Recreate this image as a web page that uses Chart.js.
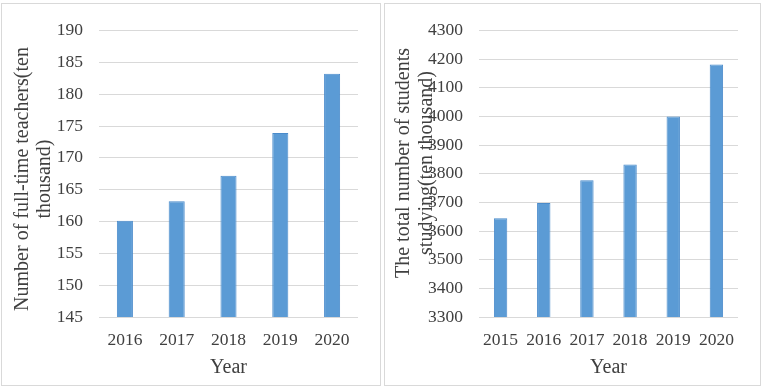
<!DOCTYPE html>
<html>
<head>
<meta charset="utf-8">
<script src="https://cdn.jsdelivr.net/npm/chart.js@4"></script>
<style>
  body { margin: 0; background: #fff; width: 765px; height: 391px; position: relative; overflow: hidden; }
  .panel { position: absolute; top: 3px; height: 383px; border: 1px solid #d9d9d9; box-sizing: border-box; }
  .panel canvas { display: block; }
</style>
</head>
<body>
<div class="panel" style="left:1px; width:380px;"><canvas id="teachers" width="378" height="381"></canvas></div>
<div class="panel" style="left:384px; width:377px;"><canvas id="students" width="375" height="381"></canvas></div>
<script>
// left chart: full-time teachers
const teacherYears = ['2016', '2017', '2018', '2019', '2020'];
const teacherValues = [160.1, 163.2, 167.2, 173.9, 183.2];
const teacherTitle = ['Number of full-time teachers(ten', 'thousand)'];

// right chart: students studying
const studentYears = ['2015', '2016', '2017', '2018', '2019', '2020'];
const studentValues = [3645, 3698, 3777, 3832, 4000, 4181];
const studentTitle = ['The total number of students', 'studying(ten thousand)'];

const textColor = '#404040';
const serif = 'Liberation Serif';

// draws the rotated y title where Excel put it (it overlaps the ticks on the right chart)
const yTitlePlugin = {
  id: 'yTitle',
  afterDraw(chart, args, opts) {
    const ctx = chart.ctx;
    ctx.save();
    ctx.fillStyle = textColor;
    ctx.font = opts.size + 'px "' + serif + '"';
    ctx.textAlign = 'center';
    ctx.textBaseline = 'middle';
    opts.lines.forEach((line, i) => {
      ctx.save();
      ctx.translate(opts.x[i], opts.y);
      ctx.rotate(-Math.PI / 2);
      ctx.fillText(line, 0, 0);
      ctx.restore();
    });
    ctx.restore();
  }
};

function makeChart(id, labels, values, yMin, yMax, step, yWidth, titleLines, titleX, titleY) {
  return new Chart(document.getElementById(id), {
    type: 'bar',
    data: {
      labels: labels,
      datasets: [{
        data: values,
        backgroundColor: '#5b9bd5',
        borderColor: '#4a8bcb',
        borderWidth: 1,
        categoryPercentage: 1,
        barPercentage: 0.31
      }]
    },
    options: {
      responsive: false,
      animation: false,
      layout: { padding: { top: 22, right: 22, left: 0, bottom: 0 } },
      plugins: {
        legend: { display: false },
        tooltip: { enabled: false },
        yTitle: { lines: titleLines, x: titleX, y: titleY, size: 20 }
      },
      scales: {
        x: {
          grid: { display: false },
          border: { display: false },
          ticks: { color: textColor, font: { family: serif, size: 17.5 }, padding: 5, maxRotation: 0 },
          title: { display: true, text: 'Year', color: textColor, font: { family: serif, size: 20 }, padding: { top: 0, bottom: 5 } },
          afterFit(scale) { scale.height = 68; }
        },
        y: {
          min: yMin,
          max: yMax,
          grid: { color: '#d9d9d9', drawTicks: false },
          border: { display: false },
          ticks: {
            stepSize: step, color: textColor, font: { family: serif, size: 17.5 }, padding: 16,
            callback: (v) => String(v)
          },
          afterFit(scale) { scale.width = yWidth; }
        }
      }
    },
    plugins: [yTitlePlugin]
  });
}

makeChart('teachers', teacherYears, teacherValues, 145, 190, 5, 97, teacherTitle, [21, 43], 175);
makeChart('students', studentYears, studentValues, 3300, 4300, 100, 94, studentTitle, [19, 42], 159);
</script>
</body>
</html>
